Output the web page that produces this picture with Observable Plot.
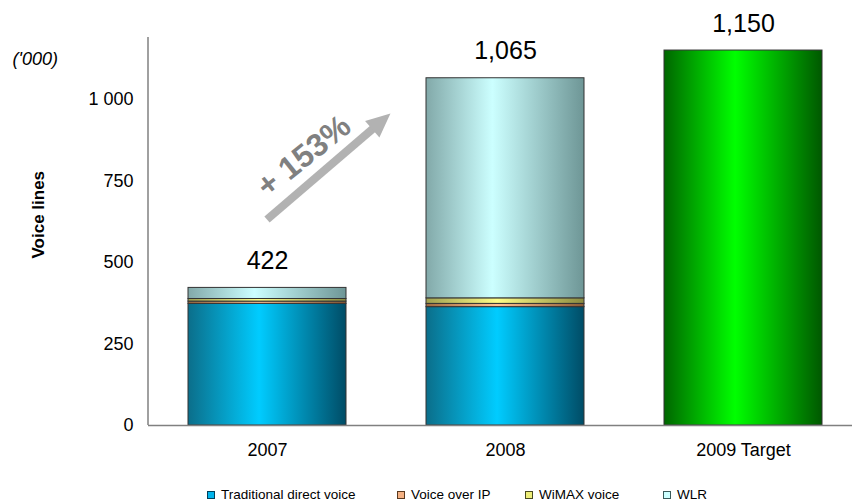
<!DOCTYPE html>
<html>
<head>
<meta charset="utf-8">
<script src="https://cdn.jsdelivr.net/npm/d3@7"></script>
<script src="https://cdn.jsdelivr.net/npm/@observablehq/plot@0.6"></script>
<style>
  body { margin: 0; background: #fff; font-family: "Liberation Sans", Arial, sans-serif; }
  #wrap { position: relative; width: 852px; height: 504px; overflow: hidden; }
  #legend { position: absolute; left: 0; top: 470px; width: 852px; height: 34px; }
  .item { position: absolute; top: 17px; height: 15px; display: flex; align-items: center; font-size: 13.5px; color: #000; white-space: nowrap; }
  .sw { width: 6px; height: 6px; border: 1px solid #333; margin-right: 6px; }
</style>
</head>
<body>
<div id="wrap"><div id="legend"></div></div>
<script>
// Voice lines ('000) by year, stacked by access type
const years = ["2007", "2008", "2009 Target"];
const seriesNames = ["Traditional direct voice", "Voice over IP", "WiMAX voice", "WLR", "Target"];
const traditionalDirect = [373, 363, 0];
const voiceOverIP = [7, 10, 0];
const wimaxVoice = [8, 17, 0];
const wlr = [34, 675, 0];
const target2009 = [0, 0, 1150];
const totals = [422, 1065, 1150];
const yTicks = [0, 250, 500, 750, 1000];
const legendNames = seriesNames.slice(0, 4);

// growth annotation between 2007 and 2008
const growthLabel = "+ 153%";
const growthFrom = { year: "2007", value: 630 };
const growthTo = { year: "2008", value: 955 };

// horizontal shading for each series
const gradients = [
  { id: "g-trad",   stops: [[0, "#0b6e8a"], [0.45, "#00ccff"], [1, "#004c66"]] },
  { id: "g-voip",   stops: [[0, "#a06a40"], [0.45, "#ffc090"], [1, "#8a5a35"]] },
  { id: "g-wimax",  stops: [[0, "#a0a050"], [0.45, "#ffff88"], [1, "#8a8a40"]] },
  { id: "g-wlr",    stops: [[0, "#82a9a9"], [0.42, "#ccffff"], [1, "#6e9696"]] },
  { id: "g-target", stops: [[0, "#006600"], [0.45, "#00ff00"], [1, "#005800"]] }
];
const legendColors = [
  ["#00b4ec", "#00405a"],
  ["#f4b183", "#5a3a20"],
  ["#eeee78", "#4a4a20"],
  ["#ccffff", "#3a5a5a"]
];

const seriesArrays = [traditionalDirect, voiceOverIP, wimaxVoice, wlr, target2009];
const rows = [];
years.forEach((yr, i) => {
  seriesArrays.forEach((arr, s) => {
    if (arr[i] > 0) rows.push({ year: yr, series: seriesNames[s], value: arr[i] });
  });
});
const labels = years.map((yr, i) => ({ year: yr, total: totals[i] }));

const spaceFormat = d3.formatLocale({ decimal: ".", thousands: " ", grouping: [3], currency: ["", ""] }).format(",");
const commaFormat = d3.format(",");

const defsMark = () => {
  const defs = d3.create("svg:defs");
  for (const g of gradients) {
    const lg = defs.append("linearGradient").attr("id", g.id)
      .attr("x1", 0).attr("x2", 1).attr("y1", 0).attr("y2", 0);
    g.stops.forEach(([o, c]) => lg.append("stop").attr("offset", o).attr("stop-color", c));
  }
  return defs.node();
};

const leftAxisLine = (index, scales, values, dims) => {
  return d3.create("svg:line")
    .attr("x1", dims.marginLeft).attr("x2", dims.marginLeft)
    .attr("y1", dims.marginTop).attr("y2", dims.height - dims.marginBottom)
    .attr("stroke", "#808080").attr("stroke-width", 1.5).node();
};

const growthArrow = (index, { x, y }) => {
  const bw = typeof x.bandwidth === "function" ? x.bandwidth() : x.bandwidth;
  const x1 = x(growthFrom.year) + bw / 2, y1 = y(growthFrom.value);
  const x2 = x(growthTo.year) - 0.225 * bw, y2 = y(growthTo.value);
  const dx = x2 - x1, dy = y2 - y1, len = Math.hypot(dx, dy);
  const ux = dx / len, uy = dy / len, px = -uy, py = ux;
  const headLen = 24, headHalf = 11;
  const bx = x2 - ux * headLen, by = y2 - uy * headLen;
  const g = d3.create("svg:g");
  g.append("line").attr("x1", x1).attr("y1", y1).attr("x2", bx + ux).attr("y2", by + uy)
    .attr("stroke", "#b2b2b2").attr("stroke-width", 8);
  g.append("polygon")
    .attr("points", [[x2, y2], [bx + px * headHalf, by + py * headHalf], [bx - px * headHalf, by - py * headHalf]].map(p => p.join(",")).join(" "))
    .attr("fill", "#b2b2b2");
  const mx = (x1 + x2) / 2 - ux * 12 - px * 25;
  const my = (y1 + y2) / 2 - uy * 12 - py * 25;
  const angle = Math.atan2(dy, dx) * 180 / Math.PI + 2;
  g.append("text").attr("transform", `translate(${mx},${my}) rotate(${angle})`)
    .attr("text-anchor", "middle").attr("dy", "0.35em")
    .attr("font-size", 32).attr("font-weight", "bold").attr("fill", "#808080")
    .text(growthLabel);
  return g.node();
};

const chart = Plot.plot({
  width: 852,
  height: 470,
  marginLeft: 148,
  marginRight: 0,
  marginTop: 37,
  marginBottom: 45,
  style: { fontFamily: "'Liberation Sans', Arial, sans-serif", fontSize: "18px", color: "#000", background: "#fff" },
  x: { domain: years, range: [148, 863], paddingInner: 0.3347, paddingOuter: 0.1632, label: null },
  y: { domain: [0, 1190], label: null },
  color: { domain: seriesNames, range: gradients.map(g => `url(#${g.id})`) },
  marks: [
    defsMark,
    Plot.barY(rows, { x: "year", y: "value", fill: "series", stroke: "#333", strokeWidth: 1 }),
    Plot.ruleY([0], { stroke: "#808080", strokeWidth: 1.5 }),
    leftAxisLine,
    Plot.axisY({ ticks: yTicks, tickSize: 0, tickPadding: 15, tickFormat: spaceFormat, label: null }),
    Plot.axisX({ tickSize: 0, tickPadding: 18, label: null }),
    Plot.text(labels, { x: "year", y: "total", text: d => commaFormat(d.total), lineAnchor: "bottom", dy: -19, fontSize: 25 }),
    Plot.text(["Voice lines"], { frameAnchor: "left", text: d => d, rotate: -90, dx: -110, dy: 27, fontWeight: "bold", fontSize: 17 }),
    Plot.text(["('000)"], { frameAnchor: "top-left", text: d => d, textAnchor: "start", dx: -136, dy: 15, fontStyle: "italic", fontSize: 18 }),
    growthArrow
  ]
});
document.getElementById("wrap").prepend(chart);

// legend below the chart
const legendX = [207, 397, 525, 663];
const legend = d3.select("#legend");
legendNames.forEach((name, i) => {
  const item = legend.append("div").attr("class", "item").style("left", legendX[i] + "px");
  item.append("div").attr("class", "sw")
    .style("background", legendColors[i][0]).style("border-color", legendColors[i][1]);
  item.append("span").text(name);
});
</script>
</body>
</html>
